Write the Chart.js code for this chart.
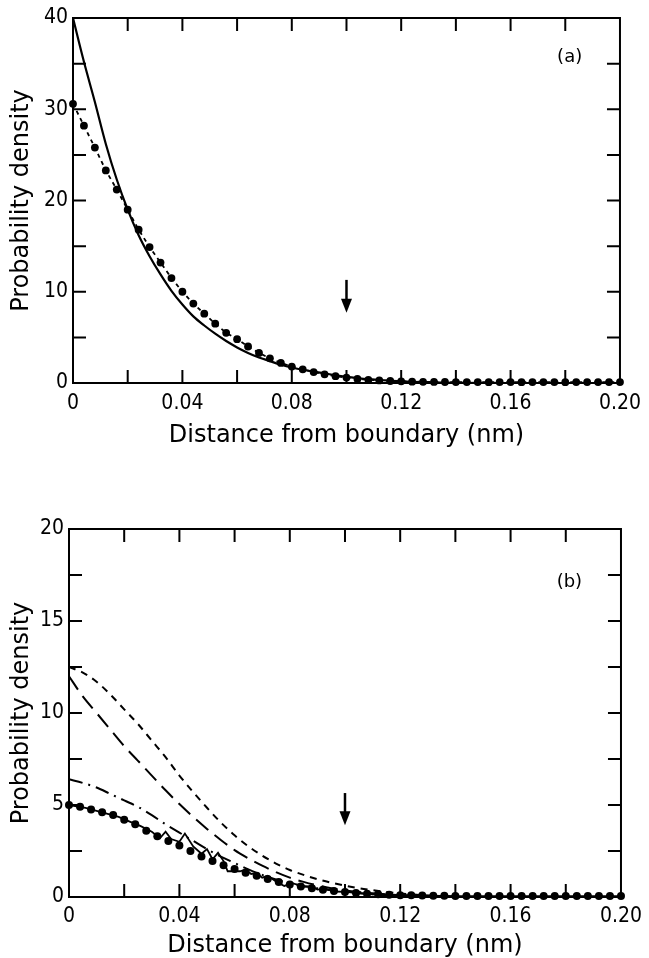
<!DOCTYPE html>
<html>
<head>
<meta charset="utf-8">
<script src="https://cdn.jsdelivr.net/npm/chart.js@4.4.1/dist/chart.umd.min.js"></script>
<style>
  html, body { margin: 0; padding: 0; background: #fff; }
  canvas { display: block; }
</style>
</head>
<body>
<canvas id="chartA" width="649" height="470"></canvas>
<canvas id="chartB" width="649" height="488"></canvas>
<script>
// Eje x común
const xTickValues = [0, 0.04, 0.08, 0.12, 0.16, 0.2];
const xTickLabels = ['0', '0.04', '0.08', '0.12', '0.16', '0.20'];
const xMarks = [0.02, 0.04, 0.06, 0.08, 0.1, 0.12, 0.14, 0.16, 0.18];

// Posiciones de los puntos (cada 0.004 nm)
const xDots = [0, 0.004, 0.008, 0.012, 0.016, 0.02, 0.024, 0.028, 0.032, 0.036,
  0.04, 0.044, 0.048, 0.052, 0.056, 0.06, 0.064, 0.068, 0.072, 0.076,
  0.08, 0.084, 0.088, 0.092, 0.096, 0.1, 0.104, 0.108, 0.112, 0.116,
  0.12, 0.124, 0.128, 0.132, 0.136, 0.14, 0.144, 0.148, 0.152, 0.156,
  0.16, 0.164, 0.168, 0.172, 0.176, 0.18, 0.184, 0.188, 0.192, 0.196, 0.2];

// (a)
const yTicksA = [0, 10, 20, 30, 40];
const yMarksA = [5, 10, 15, 20, 25, 30, 35];
const dotsA = [30.6, 28.2, 25.8, 23.3, 21.2, 19.0, 16.8, 14.9, 13.2, 11.5,
  10.0, 8.7, 7.6, 6.5, 5.5, 4.8, 4.0, 3.3, 2.7, 2.2,
  1.8, 1.5, 1.2, 0.95, 0.75, 0.6, 0.45, 0.35, 0.28, 0.22,
  0.18, 0.15, 0.13, 0.12, 0.11, 0.1, 0.1, 0.1, 0.09, 0.1,
  0.1, 0.09, 0.1, 0.1, 0.1, 0.09, 0.1, 0.1, 0.1, 0.1, 0.1];
const xSolidA = [0, 0.004, 0.008, 0.012, 0.016, 0.02, 0.024, 0.028, 0.032, 0.036,
  0.04, 0.044, 0.048, 0.052, 0.056, 0.06, 0.064, 0.068, 0.072, 0.076,
  0.08, 0.084, 0.088, 0.092, 0.096, 0.1, 0.104, 0.108, 0.112, 0.116,
  0.12, 0.13, 0.14, 0.16, 0.2];
const solidA = [40, 35.2, 30.8, 26.2, 22.3, 19.0, 16.2, 13.9, 11.9, 10.1,
  8.6, 7.3, 6.3, 5.4, 4.6, 3.9, 3.3, 2.8, 2.4, 2.0,
  1.7, 1.45, 1.25, 1.05, 0.85, 0.68, 0.54, 0.42, 0.33, 0.25,
  0.18, 0.08, 0.03, 0, 0];
const arrowA = [0.1, 11.3, 7.7];
const labelA = ['(a)', 0.1816, 35.7];

// (b)
const yTicksB = [0, 5, 10, 15, 20];
const yMarksB = [2.5, 5, 7.5, 10, 12.5, 15, 17.5];
const xCurvesB = [0, 0.005, 0.01, 0.015, 0.02, 0.025, 0.03, 0.035, 0.04, 0.045,
  0.05, 0.055, 0.06, 0.065, 0.07, 0.075, 0.08, 0.085, 0.09, 0.095,
  0.1, 0.105, 0.11, 0.115, 0.12, 0.125, 0.13, 0.135, 0.14];
const shortDashB = [12.5, 12.2, 11.7, 11.0, 10.2, 9.4, 8.5, 7.6, 6.6, 5.7,
  4.85, 4.05, 3.35, 2.75, 2.25, 1.82, 1.47, 1.2, 0.97, 0.78,
  0.62, 0.48, 0.37, 0.27, 0.19, 0.13, 0.08, 0.05, 0.03];
const longDashB = [12.0, 10.9, 10.0, 9.1, 8.2, 7.4, 6.6, 5.8, 5.05, 4.35,
  3.7, 3.1, 2.55, 2.1, 1.7, 1.35, 1.05, 0.82, 0.63, 0.48,
  0.36, 0.27, 0.2, 0.14, 0.1, 0.07, 0.05, 0.03, 0.02];
const dashDotB = [6.4, 6.2, 5.95, 5.6, 5.25, 4.9, 4.45, 3.95, 3.5, 3.05,
  2.6, 2.2, 1.85, 1.5, 1.2, 0.95, 0.75, 0.6, 0.47, 0.37,
  0.28, 0.21, 0.15, 0.1, 0.07, 0.05, 0.03, 0.02, 0.01];
const dotsB = [5.0, 4.9, 4.75, 4.6, 4.45, 4.2, 3.95, 3.6, 3.3, 3.05,
  2.8, 2.5, 2.2, 1.95, 1.72, 1.52, 1.32, 1.15, 0.98, 0.82,
  0.68, 0.57, 0.48, 0.4, 0.33, 0.27, 0.22, 0.18, 0.15, 0.12,
  0.1, 0.09, 0.08, 0.07, 0.07, 0.06, 0.06, 0.06, 0.06, 0.06,
  0.06, 0.06, 0.06, 0.06, 0.06, 0.06, 0.06, 0.06, 0.06, 0.06, 0.06];
// línea sólida irregular (histograma)
const xJaggedB = [0, 0.006, 0.012, 0.018, 0.022, 0.026, 0.03, 0.033, 0.035, 0.037,
  0.04, 0.042, 0.045, 0.048, 0.05, 0.052, 0.054, 0.056, 0.0575, 0.062,
  0.064, 0.066, 0.068, 0.07, 0.072, 0.075, 0.078, 0.081, 0.085, 0.088,
  0.09, 0.093, 0.096, 0.1, 0.11, 0.12, 0.14, 0.2];
const jaggedB = [5.0, 4.85, 4.6, 4.35, 4.1, 3.85, 3.55, 3.2, 3.55, 3.15,
  3.0, 3.45, 2.75, 2.35, 2.6, 2.05, 2.4, 1.95, 1.4, 1.4,
  1.5, 1.25, 1.3, 1.05, 1.15, 0.85, 0.6, 0.75, 0.55, 0.6,
  0.4, 0.45, 0.3, 0.28, 0.15, 0.1, 0.05, 0.05];
const arrowB = [0.1, 5.65, 3.9];
const labelB = ['(b)', 0.1813, 17.1];

Chart.defaults.font.family = "'DejaVu Sans', sans-serif";
Chart.defaults.color = '#000';
const fuenteNumeros = "'DejaVu Sans Condensed', 'DejaVu Sans', sans-serif";

function puntos(xs, ys) {
  return xs.map((v, i) => ({ x: v, y: ys[i] }));
}

// Marco, marcas hacia dentro, flecha y etiqueta del panel
const marcoPlugin = {
  id: 'marco',
  afterDatasetsDraw(chart, args, opts) {
    const { ctx, chartArea: a, scales: { x, y } } = chart;
    ctx.save();
    ctx.strokeStyle = '#000';
    ctx.fillStyle = '#000';
    ctx.lineWidth = 2;
    ctx.strokeRect(a.left, a.top, a.right - a.left, a.bottom - a.top);
    ctx.beginPath();
    opts.xMarks.forEach(v => {
      const px = x.getPixelForValue(v);
      ctx.moveTo(px, a.bottom); ctx.lineTo(px, a.bottom - 13);
      ctx.moveTo(px, a.top); ctx.lineTo(px, a.top + 13);
    });
    opts.yMarks.forEach(v => {
      const py = y.getPixelForValue(v);
      ctx.moveTo(a.left, py); ctx.lineTo(a.left + 13, py);
      ctx.moveTo(a.right, py); ctx.lineTo(a.right - 13, py);
    });
    ctx.stroke();

    // flecha
    const [ax, y0, y1] = opts.arrow;
    const px = x.getPixelForValue(ax);
    const pTop = y.getPixelForValue(y0);
    const pTip = y.getPixelForValue(y1);
    ctx.lineWidth = 2.5;
    ctx.beginPath();
    ctx.moveTo(px, pTop);
    ctx.lineTo(px, pTip - 8);
    ctx.stroke();
    ctx.beginPath();
    ctx.moveTo(px - 5.5, pTip - 14);
    ctx.lineTo(px + 5.5, pTip - 14);
    ctx.lineTo(px, pTip);
    ctx.closePath();
    ctx.fill();

    // etiqueta
    const [txt, lx, ly] = opts.label;
    ctx.font = "18px 'DejaVu Sans'";
    ctx.textAlign = 'center';
    ctx.textBaseline = 'middle';
    ctx.fillText(txt, x.getPixelForValue(lx), y.getPixelForValue(ly));
    ctx.restore();
  }
};

function crearGrafico(id, cfg) {
  return new Chart(document.getElementById(id), {
    type: 'scatter',
    data: { datasets: cfg.datasets },
    options: {
      responsive: false,
      animation: false,
      devicePixelRatio: 1,
      layout: { padding: cfg.padding },
      plugins: {
        legend: { display: false },
        tooltip: { enabled: false },
        marco: cfg.marco
      },
      scales: {
        x: {
          type: 'linear',
          min: 0,
          max: 0.2,
          afterFit: s => { s.height = cfg.xAxisHeight; },
          afterBuildTicks: s => { s.ticks = xTickValues.map(v => ({ value: v })); },
          grid: { display: false, drawTicks: false },
          border: { display: false },
          ticks: {
            padding: cfg.xTickPad,
            font: { family: fuenteNumeros, size: 21 },
            maxRotation: 0,
            autoSkip: false,
            callback: (v, i) => xTickLabels[i]
          },
          title: {
            display: true,
            text: 'Distance from boundary (nm)',
            font: { size: 24, lineHeight: 1 },
            padding: { top: 0, bottom: cfg.xTitlePad }
          }
        },
        y: {
          type: 'linear',
          min: 0,
          max: cfg.yTicks[cfg.yTicks.length - 1],
          afterFit: s => { s.width = cfg.yAxisWidth; },
          afterBuildTicks: s => { s.ticks = cfg.yTicks.map(v => ({ value: v })); },
          grid: { display: false, drawTicks: false },
          border: { display: false },
          ticks: {
            padding: 5,
            font: { family: fuenteNumeros, size: 21 },
            callback: (v, i) => String(cfg.yTicks[i])
          },
          title: {
            display: true,
            text: 'Probability density',
            font: { size: 24, lineHeight: 1 },
            padding: { top: 10, bottom: 0 }
          }
        }
      }
    },
    plugins: [marcoPlugin]
  });
}

const lineaBase = { showLine: true, borderColor: '#000', pointRadius: 0, fill: false };

crearGrafico('chartA', {
  padding: { left: 0, top: 18, right: 21, bottom: 0 },
  yAxisWidth: 73,
  xAxisHeight: 87,
  xTickPad: 8,
  xTitlePad: 22,
  yTicks: yTicksA,
  marco: { xMarks: xMarks, yMarks: yMarksA, arrow: arrowA, label: labelA },
  datasets: [
    Object.assign({}, lineaBase, {
      data: puntos(xSolidA, solidA),
      borderWidth: 2.2,
      cubicInterpolationMode: 'monotone'
    }),
    Object.assign({}, lineaBase, {
      data: puntos(xDots, dotsA),
      borderWidth: 1.8,
      borderDash: [4, 4],
      pointRadius: 3.9,
      pointBackgroundColor: '#000',
      pointBorderWidth: 0,
      clip: false
    })
  ]
});

crearGrafico('chartB', {
  padding: { left: 0, top: 59, right: 24, bottom: 0 },
  yAxisWidth: 69,
  xAxisHeight: 61,
  xTickPad: 7,
  xTitlePad: 0,
  yTicks: yTicksB,
  marco: { xMarks: xMarks, yMarks: yMarksB, arrow: arrowB, label: labelB },
  datasets: [
    Object.assign({}, lineaBase, {
      data: puntos(xCurvesB, shortDashB),
      borderWidth: 2,
      borderDash: [7, 6],
      cubicInterpolationMode: 'monotone'
    }),
    Object.assign({}, lineaBase, {
      data: puntos(xCurvesB, longDashB),
      borderWidth: 2,
      borderDash: [16, 8],
      cubicInterpolationMode: 'monotone'
    }),
    Object.assign({}, lineaBase, {
      data: puntos(xCurvesB, dashDotB),
      borderWidth: 2,
      borderDash: [14, 6, 2, 6],
      cubicInterpolationMode: 'monotone'
    }),
    Object.assign({}, lineaBase, {
      data: puntos(xJaggedB, jaggedB),
      borderWidth: 1.8
    }),
    {
      data: puntos(xDots, dotsB),
      showLine: false,
      pointRadius: 4,
      pointBackgroundColor: '#000',
      pointBorderWidth: 0,
      clip: false
    }
  ]
});
</script>
</body>
</html>
